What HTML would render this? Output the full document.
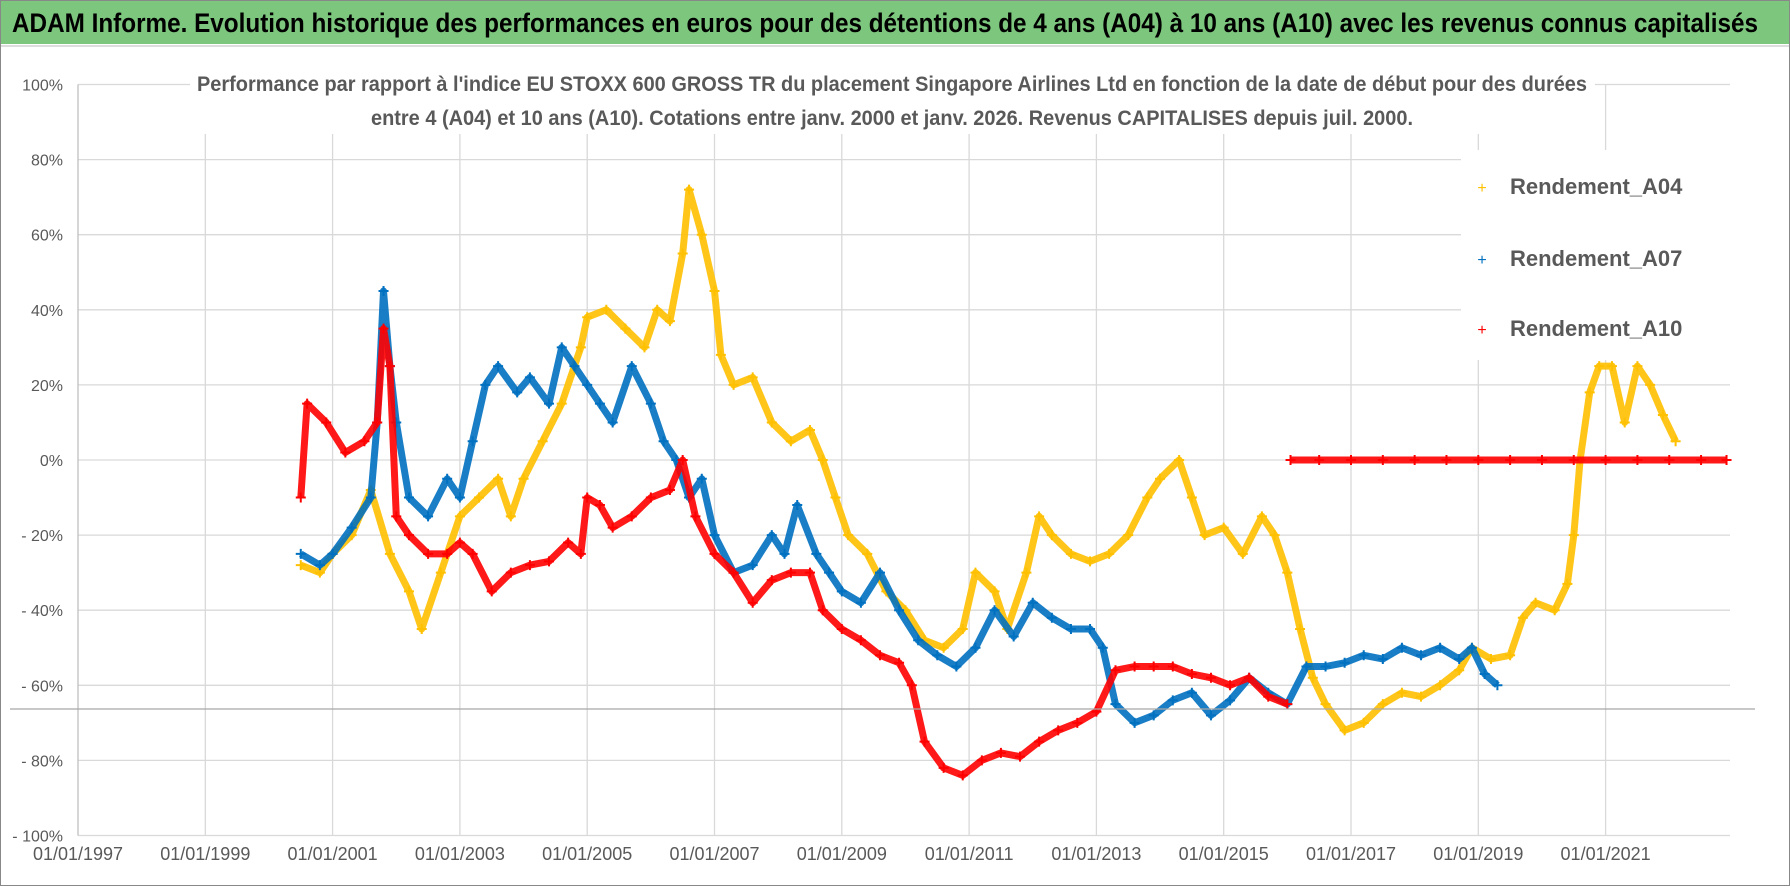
<!DOCTYPE html>
<html><head><meta charset="utf-8">
<style>
html,body{margin:0;padding:0;background:#fff;}
svg{display:block;font-family:"Liberation Sans",sans-serif;}
</style></head>
<body>
<svg id="chart" width="1790" height="886" viewBox="0 0 1790 886" xmlns="http://www.w3.org/2000/svg">
<rect x="0.5" y="0.5" width="1789" height="885" fill="#fff" stroke="#888"/>
<rect x="1" y="1" width="1788" height="43" fill="#7dc67d"/>
<text x="12" y="32" font-size="27" font-weight="bold" fill="#000" textLength="1746" lengthAdjust="spacingAndGlyphs">ADAM Informe. Evolution historique des performances en euros pour des détentions de 4 ans (A04) à 10 ans (A10) avec les revenus connus capitalisés</text>
<line x1="1" y1="46" x2="1789" y2="46" stroke="#ddd" stroke-width="2"/>
<g id="grid"></g>
<g id="series"></g>
<line x1="10" y1="709" x2="1755" y2="709" stroke="#a6a6a6" stroke-width="1.2"/>
<rect x="190" y="68" width="1405" height="66" fill="#fff"/>
<text x="892" y="91" font-size="21" font-weight="bold" fill="#595959" text-anchor="middle" textLength="1390" lengthAdjust="spacingAndGlyphs">Performance par rapport à l'indice EU STOXX 600 GROSS TR  du placement Singapore Airlines Ltd en fonction de la date de début pour des durées</text>
<text x="892" y="125" font-size="21" font-weight="bold" fill="#595959" text-anchor="middle" textLength="1042" lengthAdjust="spacingAndGlyphs">entre 4 (A04) et 10 ans (A10). Cotations entre janv. 2000 et janv. 2026. Revenus CAPITALISES depuis juil. 2000.</text>
<g>
<rect x="1461" y="150" width="287" height="210" fill="#fff"/>
<g><text x="1482" y="193" fill="#ffc000" font-size="16" text-anchor="middle">+</text><text x="1510" y="194" font-size="22" font-weight="bold" fill="#595959">Rendement_A04</text></g>
<g><text x="1482" y="265" fill="#0070c0" font-size="16" text-anchor="middle">+</text><text x="1510" y="266" font-size="22" font-weight="bold" fill="#595959">Rendement_A07</text></g>
<g><text x="1482" y="335" fill="#ff0000" font-size="16" text-anchor="middle">+</text><text x="1510" y="336" font-size="22" font-weight="bold" fill="#595959">Rendement_A10</text></g>
</g>
</svg>
<script>
const yTicks=[100,80,60,40,20,0,-20,-40,-60,-80,-100];
const yTickLabels=["100%","80%","60%","40%","20%","0%","- 20%","- 40%","- 60%","- 80%","- 100%"];
const xTicks=[1997,1999,2001,2003,2005,2007,2009,2011,2013,2015,2017,2019,2021];
const xTickLabels=["01/01/1997","01/01/1999","01/01/2001","01/01/2003","01/01/2005","01/01/2007","01/01/2009","01/01/2011","01/01/2013","01/01/2015","01/01/2017","01/01/2019","01/01/2021"];
const yearsA04=[2000.5,2000.8,2001.0,2001.3,2001.6,2001.9,2002.2,2002.4,2002.7,2003.0,2003.3,2003.6,2003.8,2004.0,2004.3,2004.6,2004.9,2005.0,2005.3,2005.6,2005.9,2006.1,2006.3,2006.5,2006.6,2006.8,2007.0,2007.1,2007.3,2007.6,2007.9,2008.2,2008.5,2008.7,2008.9,2009.1,2009.4,2009.7,2010.0,2010.3,2010.6,2010.9,2011.1,2011.4,2011.6,2011.9,2012.1,2012.3,2012.6,2012.9,2013.2,2013.5,2013.8,2014.0,2014.3,2014.5,2014.7,2015.0,2015.3,2015.6,2015.8,2016.0,2016.2,2016.4,2016.6,2016.9,2017.2,2017.5,2017.8,2018.1,2018.4,2018.7,2018.9,2019.2,2019.5,2019.7,2019.9,2020.2,2020.4,2020.5,2020.6,2020.75,2020.9,2021.1,2021.3,2021.5,2021.7,2021.9,2022.1];
const valsA04=[-28,-30,-25,-20,-8,-25,-35,-45,-30,-15,-10,-5,-15,-5,5,15,30,38,40,35,30,40,37,55,72,60,45,28,20,22,10,5,8,0,-10,-20,-25,-35,-40,-48,-50,-45,-30,-35,-45,-30,-15,-20,-25,-27,-25,-20,-10,-5,0,-10,-20,-18,-25,-15,-20,-30,-45,-58,-65,-72,-70,-65,-62,-63,-60,-56,-50,-53,-52,-42,-38,-40,-33,-20,0,18,25,25,10,25,20,12,5];
const yearsA07=[2000.5,2000.8,2001.0,2001.3,2001.6,2001.7,2001.8,2001.9,2002.0,2002.2,2002.5,2002.8,2003.0,2003.2,2003.4,2003.6,2003.9,2004.1,2004.4,2004.6,2004.8,2005.0,2005.2,2005.4,2005.7,2006.0,2006.2,2006.4,2006.6,2006.8,2007.0,2007.3,2007.6,2007.9,2008.1,2008.3,2008.6,2008.8,2009.0,2009.3,2009.6,2009.9,2010.2,2010.5,2010.8,2011.1,2011.4,2011.7,2012.0,2012.3,2012.6,2012.9,2013.1,2013.3,2013.6,2013.9,2014.2,2014.5,2014.8,2015.1,2015.4,2015.7,2016.0,2016.3,2016.6,2016.9,2017.2,2017.5,2017.8,2018.1,2018.4,2018.7,2018.9,2019.1,2019.3];
const valsA07=[-25,-28,-25,-18,-10,10,45,25,10,-10,-15,-5,-10,5,20,25,18,22,15,30,25,20,15,10,25,15,5,0,-10,-5,-20,-30,-28,-20,-25,-12,-25,-30,-35,-38,-30,-40,-48,-52,-55,-50,-40,-47,-38,-42,-45,-45,-50,-65,-70,-68,-64,-62,-68,-64,-58,-62,-65,-55,-55,-54,-52,-53,-50,-52,-50,-53,-50,-57,-60];
const yearsA10=[2000.5,2000.6,2000.9,2001.2,2001.5,2001.7,2001.8,2001.9,2002.0,2002.2,2002.5,2002.8,2003.0,2003.2,2003.5,2003.8,2004.1,2004.4,2004.7,2004.9,2005.0,2005.2,2005.4,2005.7,2006.0,2006.3,2006.5,2006.7,2007.0,2007.3,2007.6,2007.9,2008.2,2008.5,2008.7,2009.0,2009.3,2009.6,2009.9,2010.1,2010.3,2010.6,2010.9,2011.2,2011.5,2011.8,2012.1,2012.4,2012.7,2013.0,2013.3,2013.6,2013.9,2014.2,2014.5,2014.8,2015.1,2015.4,2015.7,2016.0,2016.05,2016.5,2017.0,2017.5,2018.0,2018.5,2019.0,2019.5,2020.0,2020.5,2021.0,2021.5,2022.0,2022.5,2022.9];
const valsA10=[-10,15,10,2,5,10,35,25,-15,-20,-25,-25,-22,-25,-35,-30,-28,-27,-22,-25,-10,-12,-18,-15,-10,-8,0,-15,-25,-30,-38,-32,-30,-30,-40,-45,-48,-52,-54,-60,-75,-82,-84,-80,-78,-79,-75,-72,-70,-67,-56,-55,-55,-55,-57,-58,-60,-58,-63,-65,0,0,0,0,0,0,0,0,0,0,0,0,0,0,0];

const NS="http://www.w3.org/2000/svg";
function xS(yr){return 78+(yr-1997)*63.65;}
function yS(v){return 460-v*3.755;}
const grid=document.getElementById('grid');
const series=document.getElementById('series');
yTicks.forEach((t,i)=>{
  const l=document.createElementNS(NS,'line');
  l.setAttribute('x1',78);l.setAttribute('x2',1730);l.setAttribute('y1',yS(t));l.setAttribute('y2',yS(t));
  l.setAttribute('stroke','#d9d9d9');l.setAttribute('stroke-width','1.3');
  
  
  grid.appendChild(l);
  const tx=document.createElementNS(NS,'text');
  tx.setAttribute('x',63);tx.setAttribute('y',yS(t)+6);tx.setAttribute('text-anchor','end');
  tx.setAttribute('font-size','16');tx.setAttribute('fill','#595959');
  tx.textContent=yTickLabels[i];
  
  
  grid.appendChild(tx);
});
xTicks.forEach((t,i)=>{
  const l=document.createElementNS(NS,'line');
  l.setAttribute('x1',xS(t));l.setAttribute('x2',xS(t));l.setAttribute('y1',yS(100));l.setAttribute('y2',yS(-100));
  l.setAttribute('stroke',i===0?'#bfbfbf':'#d9d9d9');l.setAttribute('stroke-width','1.3');
  
  
  grid.appendChild(l);
  const tx=document.createElementNS(NS,'text');
  tx.setAttribute('x',xS(t));tx.setAttribute('y',860);tx.setAttribute('text-anchor','middle');
  tx.setAttribute('font-size','18');tx.setAttribute('fill','#595959');
  tx.textContent=xTickLabels[i];
  
  
  grid.appendChild(tx);
});
function drawSeries(yrs,vals,color,name){
  const g=document.createElementNS(NS,'g');
  
  
  let d='';
  yrs.forEach((y,i)=>{
    const gap=i>0&&Math.abs(vals[i]-vals[i-1])>40;
    d+=(i===0||gap?'M':'L')+xS(y).toFixed(1)+' '+yS(vals[i]).toFixed(1)+' ';
  });
  const p=document.createElementNS(NS,'path');
  p.setAttribute('d',d);p.setAttribute('fill','none');p.setAttribute('stroke',color);
  p.setAttribute('stroke-width','7');p.setAttribute('stroke-linejoin','round');p.setAttribute('opacity','0.9');
  
  
  g.appendChild(p);
  yrs.forEach((y,i)=>{
    const cx=xS(y),cy=yS(vals[i]);
    const m=document.createElementNS(NS,'path');
    m.setAttribute('d',`M${cx-5} ${cy}H${cx+5}M${cx} ${cy-5}V${cy+5}`);
    m.setAttribute('stroke',color);m.setAttribute('stroke-width','2');
    
    
    g.appendChild(m);
  });
  series.appendChild(g);
}
drawSeries(yearsA04,valsA04,'#ffc000','series-a04');
drawSeries(yearsA07,valsA07,'#0070c0','series-a07');
drawSeries(yearsA10,valsA10,'#ff0000','series-a10');
</script>
</body></html>
